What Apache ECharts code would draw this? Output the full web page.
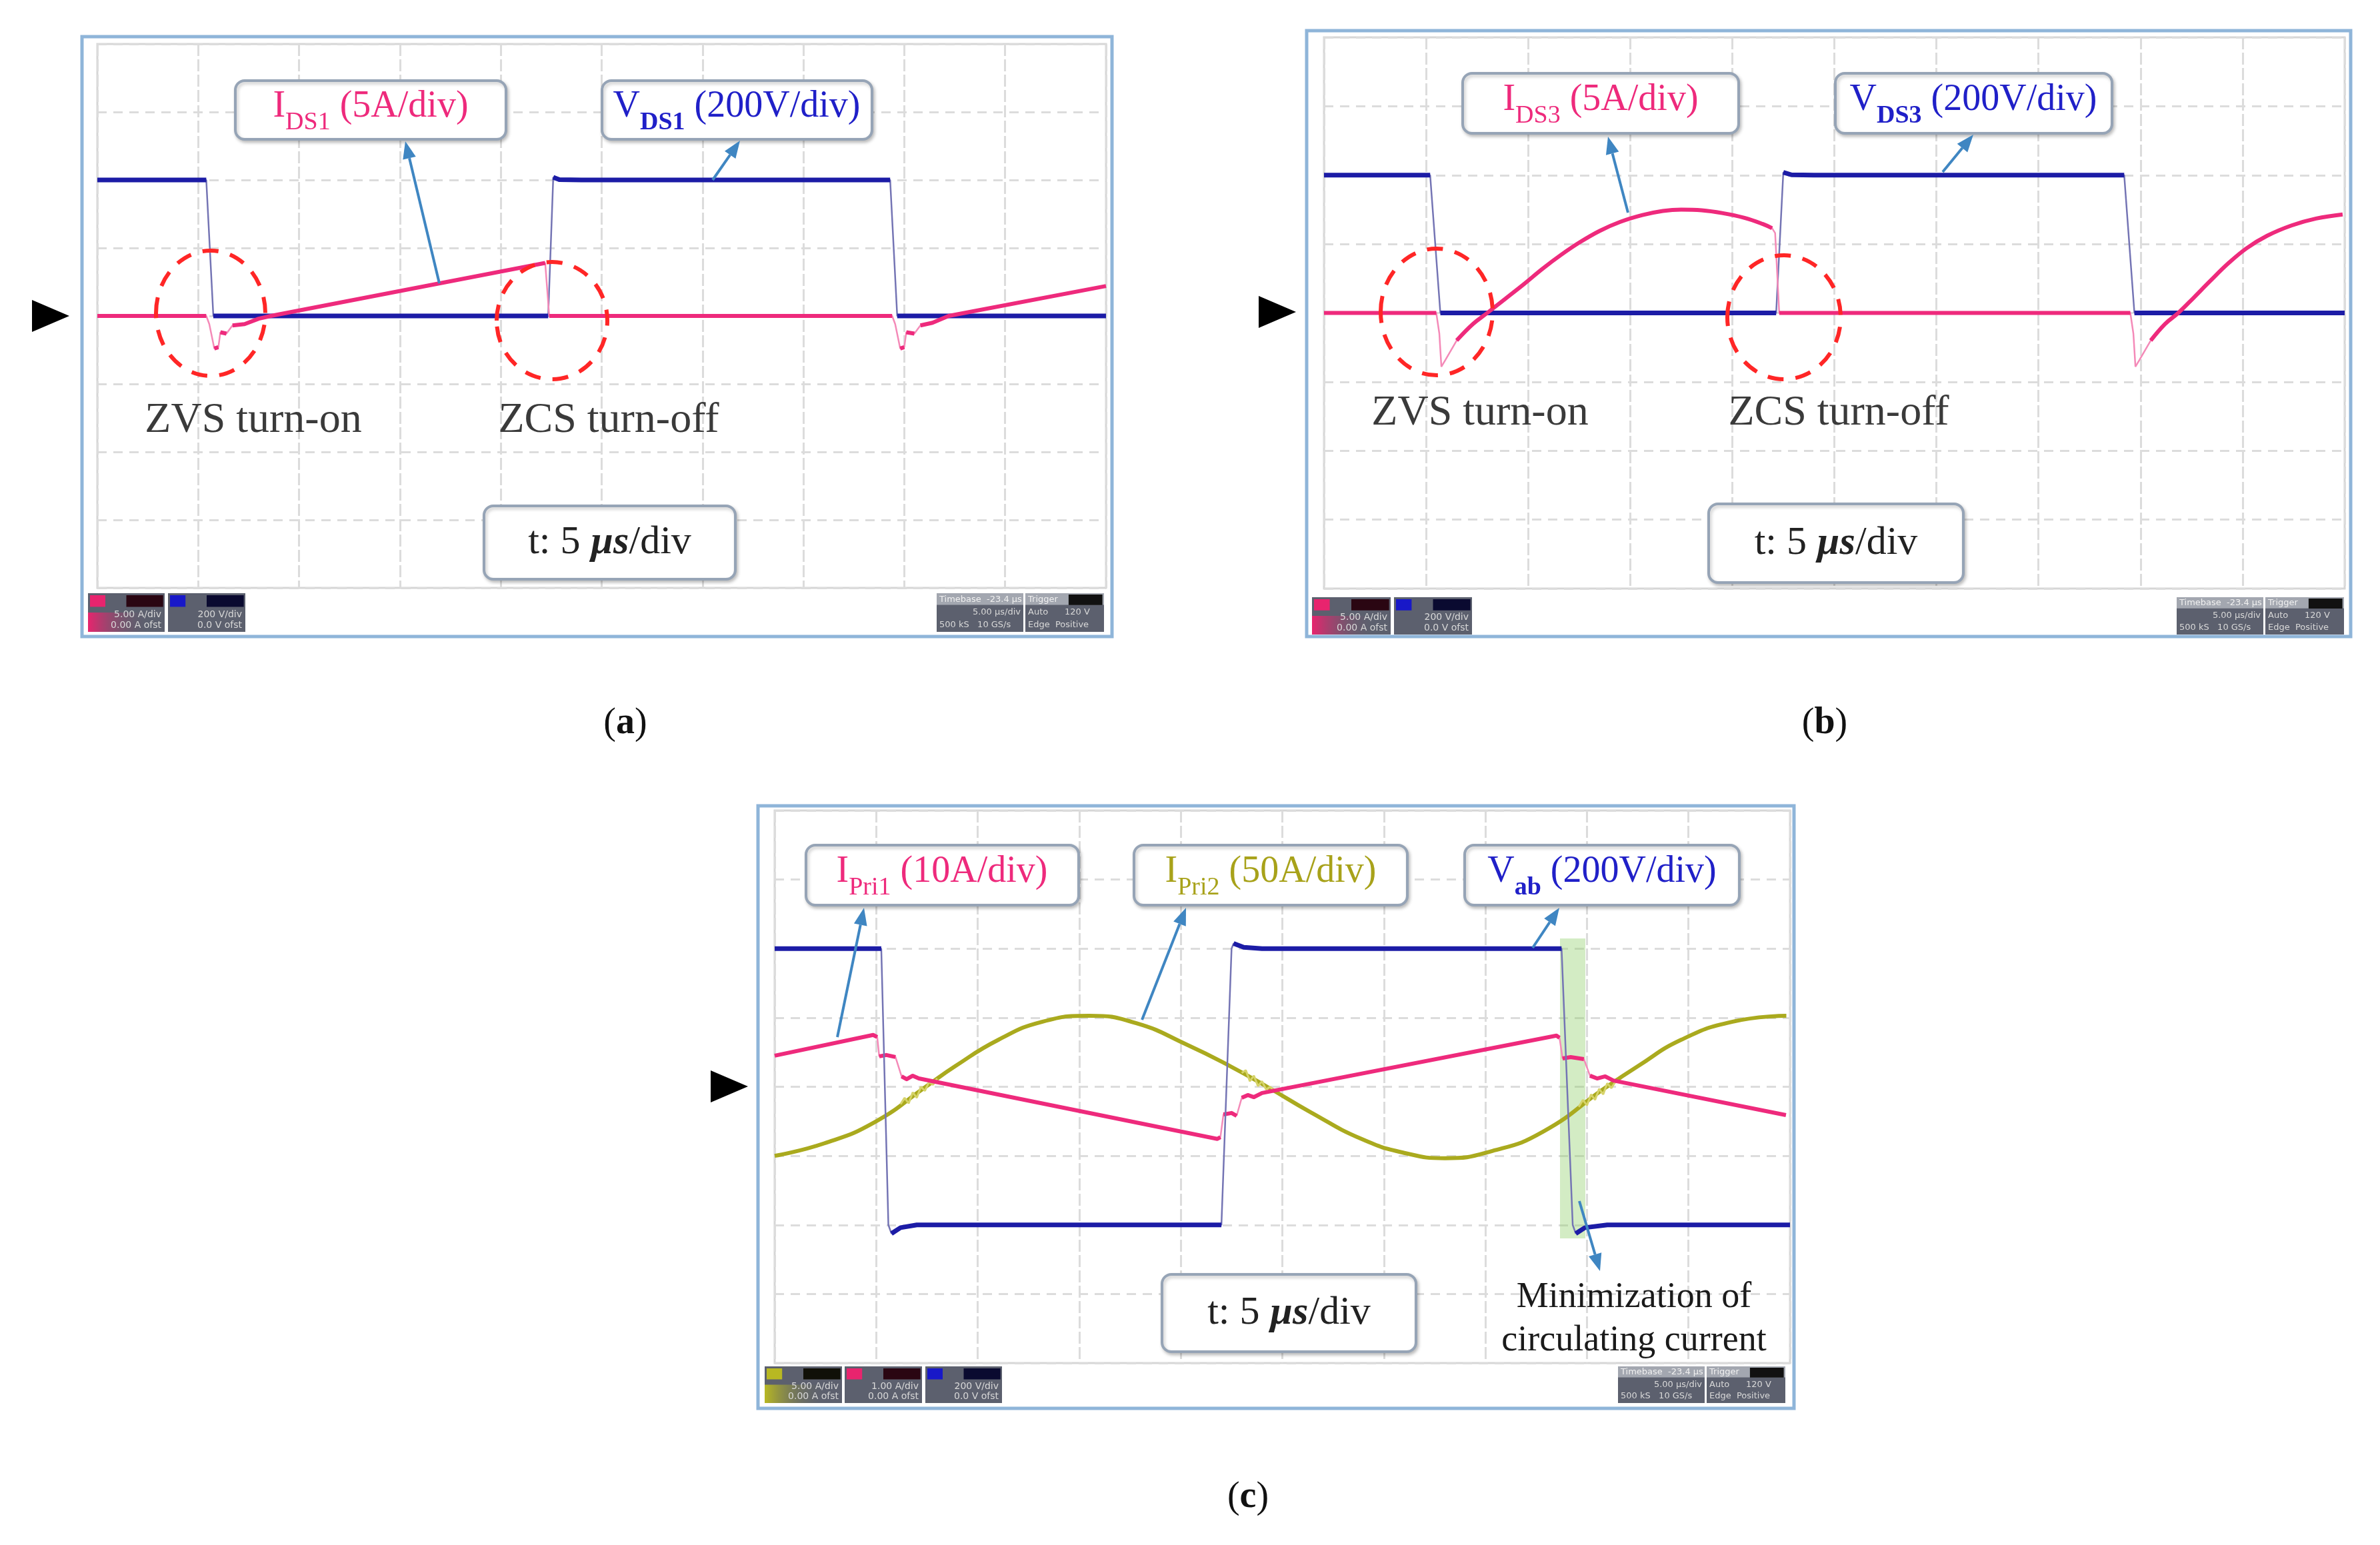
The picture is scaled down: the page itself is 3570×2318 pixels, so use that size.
<!DOCTYPE html>
<html><head><meta charset="utf-8">
<script src="https://cdn.jsdelivr.net/npm/echarts@6/dist/echarts.min.js"></script>
<style>html,body{margin:0;padding:0;background:#fff}#c{width:3570px;height:2318px}</style>
</head><body><div id="c"></div>
<script>
// ---- data (time in µs, 5 µs/div; currents in A; voltages in V) ----
const aVds1 = [[0,400],[5.4,400],[5.75,0],[22.35,0],[22.6,408],[22.9,401],[24,400],[39.3,400],[39.65,0],[50,0]];
const aIds1 = [[0,0],[5.4,0],[5.55,-0.6],[5.8,-2.4],[6.0,-2.3],[6.1,-1.2],[6.4,-1.3],[6.7,-0.7],[7.3,-0.6],[8.0,-0.2],[8.6,0],[22.2,3.9],[22.4,0],[39.4,0],[39.55,-0.6],[39.8,-2.4],[40.0,-2.3],[40.1,-1.2],[40.5,-1.3],[40.8,-0.7],[41.4,-0.5],[42.2,0],[50,2.2]];
const bVds3 = [[0,400],[5.2,400],[5.7,0],[22.15,0],[22.5,408],[22.9,401],[24,400],[39.2,400],[39.7,0],[50,0]];
const bIds3 = [[0,0],[5.5,0],[5.65,-1.5],[5.75,-3.9],[5.95,-3.4],[6.5,-2.0],[7.3,-0.8],[8.0,0],[8.9,1.05],[9.8,2.1],[10.7,3.2],[11.6,4.2],[12.5,5.1],[13.5,5.95],[14.5,6.6],[15.6,7.1],[16.6,7.4],[17.5,7.5],[18.5,7.45],[19.5,7.25],[20.6,6.9],[21.5,6.45],[21.95,6.15],[22.1,5.8],[22.3,0],[39.5,0],[39.65,-1.5],[39.75,-3.9],[39.95,-3.4],[40.5,-2.0],[41.2,-0.8],[41.85,0],[42.6,1.1],[43.4,2.3],[44.3,3.6],[45.2,4.7],[46.2,5.6],[47.4,6.35],[48.6,6.85],[49.9,7.15]];
const cVab = [[0,400],[5.25,400],[5.6,-400],[5.75,-425],[6.2,-408],[7,-400],[22.0,-400],[22.5,400],[22.6,415],[23.1,404],[24,400],[38.75,400],[39.3,-400],[39.45,-425],[39.9,-408],[41,-400],[50,-400]];
const cIpri1 = [[0,4.5],[4.85,7.5],[5.05,7.2],[5.15,4.4],[5.5,4.6],[5.95,4.3],[6.25,1.5],[6.5,1.1],[6.8,1.6],[7.1,1.2],[21.8,-7.55],[21.95,-7.3],[22.1,-4.0],[22.5,-3.8],[22.75,-4.2],[23.0,-1.6],[23.3,-1.2],[23.6,-1.5],[24.0,-0.9],[38.5,7.4],[38.65,7.1],[38.8,4.1],[39.2,4.3],[39.85,4.0],[40.15,1.6],[40.5,1.2],[40.9,1.5],[41.3,0.9],[49.8,-4.1]];
const cIpri2 = [[0,-50],[2.43,-41],[4.94,-25.5],[7.44,0],[8.87,14.7],[11.02,34],[13.16,47],[15.49,51.4],[17.81,46],[20.31,30.4],[22.46,14.7],[24.25,0],[26.4,-18.5],[28.9,-37.8],[31.04,-48],[33.01,-51.7],[35.34,-46.5],[37.84,-32.5],[40.88,-1],[42.49,14.7],[44.64,34],[47.14,47],[49.82,51.4]];
const cIpri2Ring = [[6.2,-12.6],[6.4,-8],[6.6,-12],[6.8,-4],[7.0,-8],[7.2,0],[7.4,-3],[7.6,3.5],[7.8,1.5],[8.0,6],[15,null],[23.0,10],[23.2,12],[23.4,4],[23.6,8],[23.8,0.5],[24.0,4],[24.2,-2],[24.4,0],[24.6,-3.3],[30,null],[39.6,-14.6],[39.8,-9.5],[40.0,-13.5],[40.2,-5.5],[40.4,-9.5],[40.6,-1.5],[40.8,-5.5],[41.0,2.5],[41.2,-1],[41.4,3.6]];

const timePerDiv = 5;
const captions = ['a','b','c'];

// ---- helpers ----
const SERIF = 'Liberation Serif';
const BLUE = '#1c1ca6', BLUE_T = '#7474b4';
const PINK = '#ee2a7c', PINK_T = '#f48ab8';
const OLIVE = '#aaaa1e', OLIVE_T = '#d6d36a';

function splitSteep(data, perDiv, thr) {
  const out = [];
  for (let i = 0; i < data.length; i++) {
    if (i > 0) {
      const dt = (data[i][0] - data[i-1][0]) / timePerDiv;
      const dv = Math.abs(data[i][1] - data[i-1][1]) / perDiv;
      if (dt <= 0 || dv / dt > thr) out.push([(data[i][0] + data[i-1][0]) / 2, null]);
    }
    out.push(data[i]);
  }
  return out;
}
const series = [];
function trace(data, xi, yi, color, thinColor, perDiv, smooth, z, w) {
  series.push({type:'line', xAxisIndex:xi, yAxisIndex:yi, data:data, showSymbol:false, silent:true,
    lineStyle:{color:thinColor, width:2.5}, z:z, animation:false});
  series.push({type:'line', xAxisIndex:xi, yAxisIndex:yi, data:splitSteep(data, perDiv, 2), showSymbol:false, silent:true,
    smooth:smooth, connectNulls:false, lineStyle:{color:color, width:w, join:'round'}, z:z+1, animation:false});
}
trace(aVds1, 0, 1, BLUE, BLUE_T, 200, false, 3, 7);
trace(aIds1, 0, 0, PINK, PINK_T, 5, false, 5, 6);
trace(bVds3, 1, 3, BLUE, BLUE_T, 200, false, 3, 7);
trace(bIds3, 1, 2, PINK, PINK_T, 5, 0.4, 5, 6);
series.push({type:'line', xAxisIndex:2, yAxisIndex:5, data:cIpri2, showSymbol:false, smooth:true, silent:true,
  lineStyle:{color:OLIVE, width:6}, z:3, animation:false});
series.push({type:'line', xAxisIndex:2, yAxisIndex:5, data:cIpri2Ring, showSymbol:false, silent:true, connectNulls:false,
  lineStyle:{color:OLIVE_T, width:3}, z:4, animation:false});
trace(cIpri1, 2, 4, PINK, PINK_T, 10, false, 5, 6);
trace(cVab, 2, 6, BLUE, BLUE_T, 200, false, 7, 7);

const gridCfg = {show:true, borderColor:'#d6d6d6', borderWidth:3};
const grids = [
  Object.assign({left:146, top:66, width:1513, height:816}, gridCfg),
  Object.assign({left:1986, top:56, width:1531, height:827}, gridCfg),
  Object.assign({left:1162, top:1216, width:1523, height:829}, gridCfg)
];
const xAxes = [0,1,2].map(i => ({type:'value', gridIndex:i, min:0, max:50, interval:timePerDiv,
  axisLine:{show:false}, axisTick:{show:false}, axisLabel:{show:false},
  splitLine:{show:true, lineStyle:{color:'#dcdcdc', width:3, type:[18,5]}}}));
function yShown(gi, min, max, iv) {
  return {type:'value', gridIndex:gi, min:min, max:max, interval:iv,
    axisLine:{show:false}, axisTick:{show:false}, axisLabel:{show:false},
    splitLine:{show:true, lineStyle:{color:'#dcdcdc', width:3, type:[14,10]}}};
}
function yHidden(gi, min, max, iv) { return {type:'value', gridIndex:gi, min:min, max:max, interval:iv, show:false}; }
const yAxes = [
  yShown(0,-20,20,5), yHidden(0,-800,800,200),
  yShown(1,-20,20,5), yHidden(1,-800,800,200),
  yShown(2,-40,40,10), yHidden(2,-200,200,50), yHidden(2,-800,800,200)
];

// ---- graphics ----
const G = [];
function frame(x,y,w,h){ G.push({type:'rect', shape:{x,y,width:w,height:h}, style:{fill:'none', stroke:'#8fb5d9', lineWidth:5}, z:30}); }
function box(x,y,w,h){ G.push({type:'rect', shape:{x,y,width:w,height:h,r:14}, style:{fill:'#fff', stroke:'#96a4b6', lineWidth:4, shadowBlur:5, shadowColor:'rgba(0,0,0,0.22)', shadowOffsetX:2, shadowOffsetY:3}, z:20}); }
function chLabel(cx,cy,main,sub,rest,color,boldSub){
  G.push({type:'text', x:cx, y:cy, z:22, style:{
    text:'{m|'+main+'}{s|'+sub+'}{m|'+rest+'}', align:'center', verticalAlign:'middle',
    rich:{ m:{fontSize:56, fontFamily:SERIF, fill:color, lineHeight:66, verticalAlign:'top'},
           s:{fontSize:38, fontFamily:SERIF, fill:color, lineHeight:38, padding:[33,0,0,0], verticalAlign:'top', fontWeight: boldSub?'bold':'normal'} } }});
}
function tBox(x,y,w,h){
  box(x,y,w,h);
  G.push({type:'text', x:x+w/2, y:y+h/2, z:22, style:{
    text:'{n|t: 5 }{i|µs}{n|/div}', align:'center', verticalAlign:'middle',
    rich:{ n:{fontSize:60, fontFamily:SERIF, fill:'#222'}, i:{fontSize:60, fontFamily:SERIF, fill:'#222', fontStyle:'italic', fontWeight:'bold'} } }});
}
function txt(x,y,s,size,color){ G.push({type:'text', x, y, z:22, style:{text:s, fontSize:size, fontFamily:SERIF, fill:color, align:'center', verticalAlign:'middle'}}); }
function arrow(x1,y1,x2,y2){
  const dx=x2-x1, dy=y2-y1, L=Math.hypot(dx,dy), ux=dx/L, uy=dy/L, hl=26, hw=10;
  const bx=x2-ux*hl, by=y2-uy*hl;
  G.push({type:'line', shape:{x1,y1,x2:bx,y2:by}, style:{stroke:'#3f86c2', lineWidth:4}, z:21});
  G.push({type:'polygon', shape:{points:[[x2,y2],[bx-uy*hw,by+ux*hw],[bx+uy*hw,by-ux*hw]]}, style:{fill:'#3f86c2'}, z:21});
}
function ell(cx,cy,rx,ry){ G.push({type:'ellipse', shape:{cx,cy,rx,ry}, style:{fill:'none', stroke:'#ff2626', lineWidth:6, lineDash:[24,18]}, z:21}); }
function tri(x,y){ G.push({type:'polygon', shape:{points:[[x,y-24],[x+56,y],[x,y+24]]}, style:{fill:'#000'}, z:21}); }
function chanBlock(x,y,w,h,color,tab,r1,r2,tinted){
  G.push({type:'rect', shape:{x,y,width:w,height:h}, style:{fill:'#5c606e'}, z:20});
  if (tinted) G.push({type:'rect', shape:{x:x, y:y+h*0.5, width:w*0.8, height:h*0.5},
    style:{fill:new echarts.graphic.LinearGradient(0,0,1,0,[{offset:0,color:color},{offset:1,color:'rgba(92,96,110,0)'}])}, z:20});
  G.push({type:'rect', shape:{x:x+3, y:y+3, width:w*0.2, height:h*0.3}, style:{fill:color}, z:21});
  G.push({type:'rect', shape:{x:x+w*0.5, y:y+3, width:w*0.48, height:h*0.3}, style:{fill:tab}, z:21});
  G.push({type:'text', x:x+w-5, y:y+h*0.55, z:22, style:{text:r1, fontSize:14, fontFamily:'DejaVu Sans', fill:'#d8d8d8', align:'right', verticalAlign:'middle'}});
  G.push({type:'text', x:x+w-5, y:y+h*0.83, z:22, style:{text:r2, fontSize:14, fontFamily:'DejaVu Sans', fill:'#d8d8d8', align:'right', verticalAlign:'middle'}});
}
function infoBlocks(x,y,h){
  const w1=130, w2=118;
  G.push({type:'rect', shape:{x,y,width:w1,height:h}, style:{fill:'#5c606e'}, z:20});
  G.push({type:'rect', shape:{x,y,width:w1,height:h*0.3}, style:{fill:'#a3a7b0'}, z:20});
  G.push({type:'text', x:x+4, y:y+h*0.16, z:22, style:{text:'Timebase  -23.4 µs', fontSize:13, fontFamily:'DejaVu Sans', fill:'#f0f0f0', verticalAlign:'middle'}});
  G.push({type:'text', x:x+w1-4, y:y+h*0.5, z:22, style:{text:'5.00 µs/div', fontSize:13, fontFamily:'DejaVu Sans', fill:'#d8d8d8', align:'right', verticalAlign:'middle'}});
  G.push({type:'text', x:x+4, y:y+h*0.82, z:22, style:{text:'500 kS   10 GS/s', fontSize:13, fontFamily:'DejaVu Sans', fill:'#d8d8d8', verticalAlign:'middle'}});
  const x2 = x+w1+3;
  G.push({type:'rect', shape:{x:x2,y,width:w2,height:h}, style:{fill:'#5c606e'}, z:20});
  G.push({type:'rect', shape:{x:x2,y,width:w2,height:h*0.3}, style:{fill:'#a3a7b0'}, z:20});
  G.push({type:'rect', shape:{x:x2+w2*0.55,y:y+2,width:w2*0.43,height:h*0.27}, style:{fill:'#111'}, z:21});
  G.push({type:'text', x:x2+4, y:y+h*0.16, z:22, style:{text:'Trigger', fontSize:13, fontFamily:'DejaVu Sans', fill:'#f0f0f0', verticalAlign:'middle'}});
  G.push({type:'text', x:x2+4, y:y+h*0.5, z:22, style:{text:'Auto      120 V', fontSize:13, fontFamily:'DejaVu Sans', fill:'#d8d8d8', verticalAlign:'middle'}});
  G.push({type:'text', x:x2+4, y:y+h*0.82, z:22, style:{text:'Edge  Positive', fontSize:13, fontFamily:'DejaVu Sans', fill:'#d8d8d8', verticalAlign:'middle'}});
}
function caption(x,y,l){
  G.push({type:'text', x, y, z:22, style:{text:'{p|(}{b|'+l+'}{p|)}', align:'center', verticalAlign:'middle',
    rich:{p:{fontSize:56, fontFamily:SERIF, fill:'#111'}, b:{fontSize:56, fontFamily:SERIF, fill:'#111', fontWeight:'bold'}}}});
}

// panel (a)
frame(123,55,1545,900);
chanBlock(132,890,115,58,'#e8246e','#2a0612','5.00 A/div','0.00 A ofst',true);
chanBlock(252,890,116,58,'#1818c8','#0a0a30','200 V/div','0.0 V ofst',false);
infoBlocks(1405,890,58);
tri(48,474);
box(353,121,406,88); chLabel(556,165,'I','DS1',' (5A/div)',PINK,false);
box(903,121,405,88); chLabel(1105,165,'V','DS1',' (200V/div)','#2020c8',true);
arrow(659,425,608,212); arrow(1069,270,1110,211);
ell(316,470,82,94); ell(828,481,83,88);
txt(380,631,'ZVS turn-on',64,'#3a3a3a'); txt(913,631,'ZCS turn-off',64,'#3a3a3a');
tBox(726,759,377,110);
caption(938,1086,captions[0]);

// panel (b)
frame(1960,46,1566,909);
chanBlock(1968,896,118,56,'#e8246e','#2a0612','5.00 A/div','0.00 A ofst',true);
chanBlock(2091,896,117,56,'#1818c8','#0a0a30','200 V/div','0.0 V ofst',false);
infoBlocks(3265,896,56);
tri(1888,468);
box(2194,110,414,90); chLabel(2401,155,'I','DS3',' (5A/div)',PINK,false);
box(2753,110,415,90); chLabel(2960,155,'V','DS3',' (200V/div)','#2020c8',true);
arrow(2442,319,2412,205); arrow(2914,258,2960,202);
ell(2155,468,84,95); ell(2676,476,85,93);
txt(2220,620,'ZVS turn-on',64,'#3a3a3a'); txt(2758,620,'ZCS turn-off',64,'#3a3a3a');
tBox(2563,756,382,118);
caption(2737,1086,captions[1]);

// panel (c)
frame(1137,1209,1554,904);
chanBlock(1147,2050,116,55,'#b8b822','#101008','5.00 A/div','0.00 A ofst',true);
chanBlock(1267,2050,116,55,'#e8246e','#2a0612','1.00 A/div','0.00 A ofst',false);
chanBlock(1388,2050,115,55,'#1818c8','#0a0a30','200 V/div','0.0 V ofst',false);
infoBlocks(2427,2050,55);
tri(1066,1630);
G.push({type:'rect', shape:{x:2340,y:1408,width:38,height:450}, style:{fill:'rgba(140,205,100,0.38)'}, z:2});
box(1209,1268,409,90); chLabel(1413,1313,'I','Pri1',' (10A/div)',PINK,false);
box(1701,1268,410,90); chLabel(1906,1313,'I','Pri2',' (50A/div)','#a8a21a',false);
box(2197,1268,412,90); chLabel(2403,1313,'V','ab',' (200V/div)','#2020c8',true);
arrow(1256,1556,1296,1362); arrow(1713,1530,1779,1362); arrow(2299,1422,2339,1362); arrow(2369,1802,2400,1907);
tBox(1743,1912,381,116);
txt(2451,1947,'Minimization of',54,'#1a1a1a'); txt(2451,2012,'circulating current',54,'#1a1a1a');
caption(1872,2247,captions[2]);

const chart = echarts.init(document.getElementById('c'), null, {renderer:'canvas'});
chart.setOption({backgroundColor:'#fff', animation:false, grid:grids, xAxis:xAxes, yAxis:yAxes, series:series, graphic:{elements:G}});
</script></body></html>
